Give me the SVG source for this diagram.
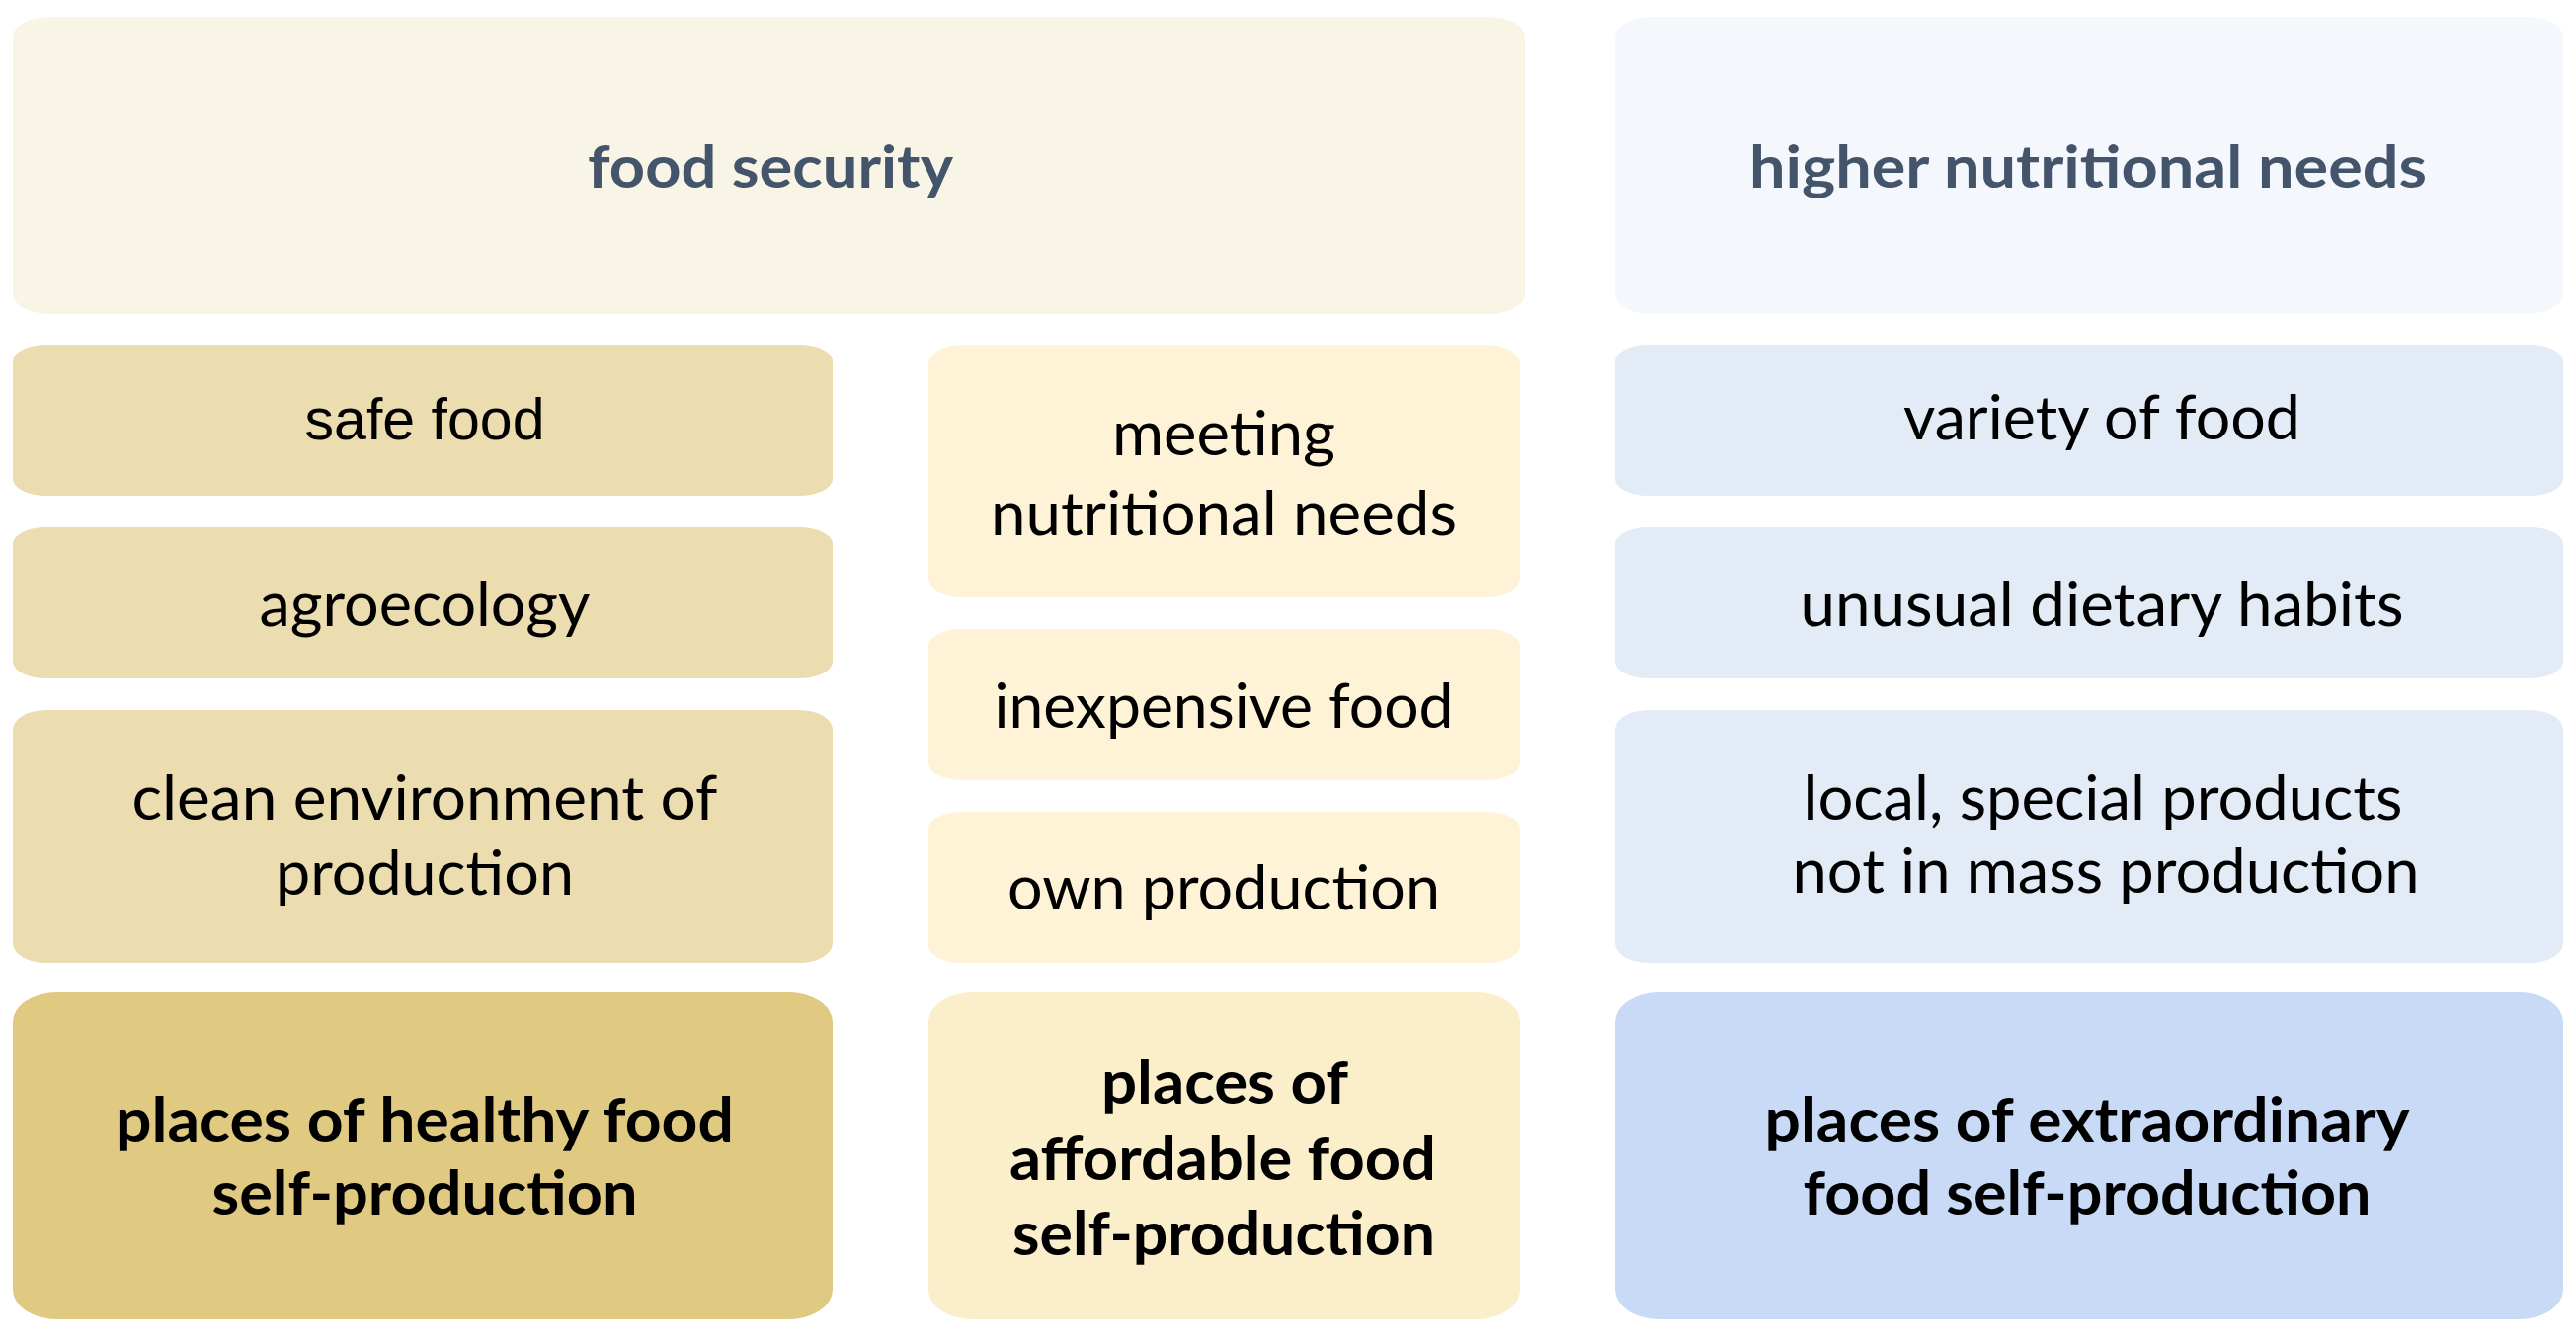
<svg xmlns="http://www.w3.org/2000/svg" width="2608" height="1361" viewBox="0 0 2608 1361">
<style>
  .t { font-family: Lato, "Open Sans", sans-serif; font-size: 62px; fill: #000; text-anchor: middle; }
  .b { font-family: Lato, "Open Sans", sans-serif; font-size: 62px; font-weight: 700; fill: #000; text-anchor: middle; }
  .h { font-family: Lato, "Open Sans", sans-serif; font-size: 60px; font-weight: 700; fill: #44546A; text-anchor: middle; }
  .a { font-family: "Liberation Sans", Arial, sans-serif; font-size: 59px; fill: #000; text-anchor: middle; }
  .top1 { fill: #F8F5E7; }
  .top2 { fill: #F4F7FC; }
  .tan { fill: #EBDDAF; }
  .tanD { fill: #E0C981; }
  .yel { fill: #FEF3D6; }
  .yelD { fill: #FBEECA; }
  .blu { fill: #E3EBF6; }
  .bluD { fill: #C8DAF5; }
</style>
<rect width="2608" height="1361" fill="#FFFFFF"/>

<g id="food-security">
  <rect class="top1" x="13" y="17" width="1531" height="301" rx="38" ry="20"/>
  <text class="h" x="780" y="190" textLength="370" lengthAdjust="spacingAndGlyphs">food security</text>
</g>
<g id="higher-nutritional-needs">
  <rect class="top2" x="1635" y="17" width="960" height="301" rx="38" ry="20"/>
  <text class="h" x="2114" y="190" textLength="686" lengthAdjust="spacingAndGlyphs">higher nutritional needs</text>
</g>

<g id="safe-food">
  <rect class="tan" x="13" y="349" width="830" height="153" rx="34" ry="17"/>
  <text class="a" x="430" y="445" textLength="243" lengthAdjust="spacingAndGlyphs">safe food</text>
</g>
<g id="agroecology">
  <rect class="tan" x="13" y="534" width="830" height="153" rx="34" ry="17"/>
  <text class="t" x="430" y="634" textLength="335" lengthAdjust="spacingAndGlyphs">agroecology</text>
</g>
<g id="clean-environment">
  <rect class="tan" x="13" y="719" width="830" height="256" rx="34" ry="20"/>
  <text class="t" x="430" y="830" textLength="593" lengthAdjust="spacingAndGlyphs">clean environment of</text>
  <text class="t" x="430" y="906" textLength="302" lengthAdjust="spacingAndGlyphs">production</text>
</g>
<g id="healthy-food-places">
  <rect class="tanD" x="13" y="1005" width="830" height="331" rx="45" ry="30"/>
  <text class="b" x="430" y="1156" textLength="626" lengthAdjust="spacingAndGlyphs">places of healthy food</text>
  <text class="b" x="430" y="1230" textLength="431" lengthAdjust="spacingAndGlyphs">self-production</text>
</g>

<g id="meeting-nutritional-needs">
  <rect class="yel" x="940" y="349" width="599" height="256" rx="34" ry="20"/>
  <text class="t" x="1239" y="461" textLength="226" lengthAdjust="spacingAndGlyphs">meeting</text>
  <text class="t" x="1239" y="542" textLength="472" lengthAdjust="spacingAndGlyphs">nutritional needs</text>
</g>
<g id="inexpensive-food">
  <rect class="yel" x="940" y="637" width="599" height="153" rx="34" ry="17"/>
  <text class="t" x="1239" y="737" textLength="465" lengthAdjust="spacingAndGlyphs">inexpensive food</text>
</g>
<g id="own-production">
  <rect class="yel" x="940" y="822" width="599" height="153" rx="34" ry="17"/>
  <text class="t" x="1239" y="921" textLength="438" lengthAdjust="spacingAndGlyphs">own production</text>
</g>
<g id="affordable-food-places">
  <rect class="yelD" x="940" y="1005" width="599" height="331" rx="45" ry="30"/>
  <text class="b" x="1240" y="1118" textLength="250" lengthAdjust="spacingAndGlyphs">places of</text>
  <text class="b" x="1238" y="1195" textLength="432" lengthAdjust="spacingAndGlyphs">affordable food</text>
  <text class="b" x="1239" y="1271" textLength="428" lengthAdjust="spacingAndGlyphs">self-production</text>
</g>

<g id="variety-of-food">
  <rect class="blu" x="1635" y="349" width="960" height="153" rx="34" ry="17"/>
  <text class="t" x="2128" y="445" textLength="402" lengthAdjust="spacingAndGlyphs">variety of food</text>
</g>
<g id="unusual-dietary-habits">
  <rect class="blu" x="1635" y="534" width="960" height="153" rx="34" ry="17"/>
  <text class="t" x="2128" y="634" textLength="611" lengthAdjust="spacingAndGlyphs">unusual dietary habits</text>
</g>
<g id="local-special-products">
  <rect class="blu" x="1635" y="719" width="960" height="256" rx="34" ry="20"/>
  <text class="t" x="2129" y="830" textLength="607" lengthAdjust="spacingAndGlyphs">local, special products</text>
  <text class="t" x="2132" y="904" textLength="635" lengthAdjust="spacingAndGlyphs">not in mass production</text>
</g>
<g id="extraordinary-food-places">
  <rect class="bluD" x="1635" y="1005" width="960" height="331" rx="45" ry="30"/>
  <text class="b" x="2113" y="1156" textLength="653" lengthAdjust="spacingAndGlyphs">places of extraordinary</text>
  <text class="b" x="2113" y="1230" textLength="575" lengthAdjust="spacingAndGlyphs">food self-production</text>
</g>

<g id="connectors"></g>
</svg>
